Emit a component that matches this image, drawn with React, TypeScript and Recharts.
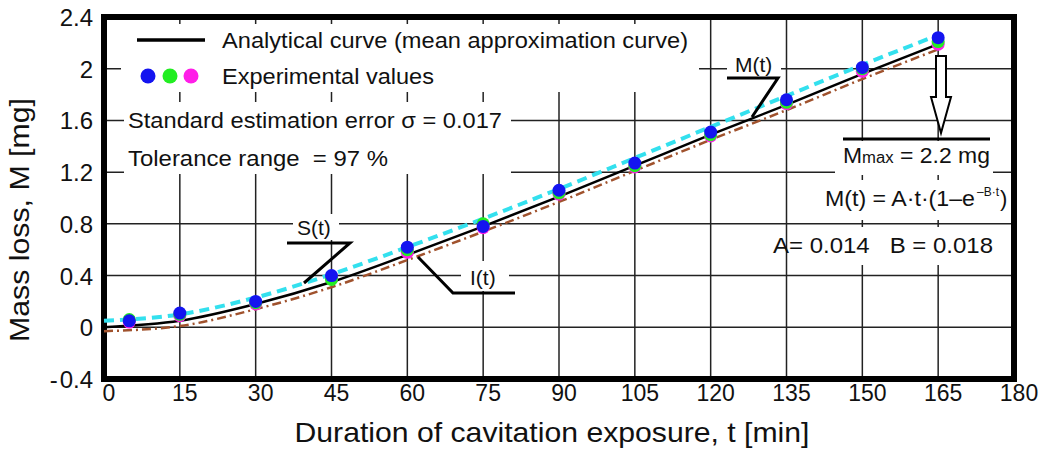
import React from 'react'
import { ComposedChart, Line, Scatter, XAxis, YAxis, CartesianGrid, ReferenceArea } from 'recharts'

// time grid (min) and curves
const times = [0, 15, 30, 45, 60, 75, 90, 105, 120, 135, 150, 165]
const analytical = [0, 0.05, 0.18, 0.35, 0.56, 0.78, 1.01, 1.25, 1.49, 1.72, 1.96, 2.19]
const upperS = [0.05, 0.1, 0.23, 0.41, 0.62, 0.84, 1.07, 1.31, 1.55, 1.79, 2.03, 2.26]
const lowerI = [-0.03, 0.01, 0.14, 0.31, 0.52, 0.74, 0.97, 1.21, 1.45, 1.68, 1.92, 2.15]

// experimental measurements (three specimens)
const expTimes = [5, 15, 30, 45, 60, 75, 90, 105, 120, 135, 150, 165]
const expMagenta = [0.04, 0.09, 0.18, 0.38, 0.58, 0.77, 1.03, 1.24, 1.48, 1.73, 1.98, 2.19]
const expGreen = [0.06, 0.1, 0.19, 0.37, 0.6, 0.8, 1.04, 1.25, 1.49, 1.74, 2.0, 2.21]
const expBlue = [0.05, 0.11, 0.2, 0.4, 0.62, 0.78, 1.06, 1.27, 1.51, 1.76, 2.01, 2.24]

const xTicks = [0, 15, 30, 45, 60, 75, 90, 105, 120, 135, 150, 165, 180]
const yTicks = [-0.4, 0, 0.4, 0.8, 1.2, 1.6, 2, 2.4]

const FONT = '"Liberation Sans", Arial, sans-serif'
const PRE = { whiteSpace: 'pre' as const }

const toPts = (xs: number[], vs: number[]) => xs.map((t, i) => ({ t, v: vs[i] }))

function dot(color: string) {
  return (p: any) => <circle cx={p.cx} cy={p.cy} r={6.5} fill={color} />
}

function XTick({ x, y, payload }: any) {
  return (
    <text x={x + 5} y={y + 14} textAnchor="middle" fontSize={23} fontFamily={FONT} fill="#111">
      {payload.value}
    </text>
  )
}

function YTick({ x, y, payload }: any) {
  const v = payload.value as number
  const label = v < 0 ? `-\u200a${Math.abs(v)}` : String(v)
  return (
    <text x={x} y={y + 9} textAnchor="end" fontSize={24} fontFamily={FONT} fill="#111">
      {label}
    </text>
  )
}

export default function App() {
  return (
    <div style={{ position: 'absolute', left: 0, top: 0, width: 1046, height: 459, background: '#fff', fontFamily: FONT }}>
      <ComposedChart width={1046} height={459} margin={{ top: 17, right: 32, bottom: 50, left: 0 }}>
        <CartesianGrid stroke="#222" strokeWidth={1.5} horizontalValues={yTicks} verticalValues={xTicks} />
        <XAxis dataKey="t" type="number" domain={[0, 180]} ticks={xTicks} height={30}
          axisLine={false} tickLine={false} tick={<XTick />} interval={0} />
        <YAxis dataKey="v" type="number" domain={[-0.4, 2.4]} ticks={yTicks} width={104}
          axisLine={false} tickLine={false} tick={<YTick />} interval={0} tickMargin={5} />
        <ReferenceArea x1={0} x2={180} y1={-0.4} y2={2.4} fill="none" stroke="#000" strokeWidth={6} />
        <Line data={toPts(times, lowerI)} dataKey="v" type="monotone" stroke="#a0522d" strokeWidth={2.5}
          strokeDasharray="9 4 2 4" dot={false} isAnimationActive={false} />
        <Line data={toPts(times, upperS)} dataKey="v" type="monotone" stroke="#33e0ee" strokeWidth={4}
          strokeDasharray="10 6" dot={false} isAnimationActive={false} />
        <Scatter data={toPts(expTimes, expMagenta)} dataKey="v" shape={dot('#ff1ee8')} isAnimationActive={false} />
        <Scatter data={toPts(expTimes, expGreen)} dataKey="v" shape={dot('#22ee22')} isAnimationActive={false} />
        <Scatter data={toPts(expTimes, expBlue)} dataKey="v" shape={dot('#1414f0')} isAnimationActive={false} />
        <Line data={toPts(times, analytical)} dataKey="v" type="monotone" stroke="#000" strokeWidth={2.5}
          dot={false} isAnimationActive={false} />
      </ComposedChart>

      {/* annotations on top */}
      <svg width={1046} height={459} style={{ position: 'absolute', left: 0, top: 0, pointerEvents: 'none' }}
        fontFamily={FONT} fill="#111">
        {/* legend block */}
        <rect x={121} y={24} width={578} height={68} fill="#fff" />
        <line x1={137} x2={205} y1={40} y2={40} stroke="#000" strokeWidth={3.5} />
        <text x={222} y={48} fontSize={22} textLength={466} lengthAdjust="spacingAndGlyphs">Analytical curve (mean approximation curve)</text>
        <circle cx={148} cy={76} r={7.5} fill="#1414f0" />
        <circle cx={170} cy={76} r={7.5} fill="#22ee22" />
        <circle cx={191} cy={76} r={7.5} fill="#ff1ee8" />
        <text x={222} y={84} fontSize={22} textLength={212} lengthAdjust="spacingAndGlyphs">Experimental values</text>

        <rect x={124} y={102} width={387} height={72} fill="#fff" />
        <text x={128} y={128} fontSize={22} textLength={374} lengthAdjust="spacingAndGlyphs">Standard estimation error σ = 0.017</text>
        <text x={128} y={166} fontSize={22} style={PRE} textLength={260} lengthAdjust="spacingAndGlyphs">Tolerance range  = 97 %</text>

        {/* M(t) leader */}
        <rect x={727} y={48} width={54} height={29} fill="#fff" />
        <text x={735} y={72} fontSize={21}>M(t)</text>
        <polyline points="727,78 778,78 752,117" fill="none" stroke="#000" strokeWidth={3} />

        {/* S(t) leader */}
        <rect x={293} y={214} width={46} height={26} fill="#fff" />
        <text x={297} y={235} fontSize={21}>S(t)</text>
        <polyline points="287,243 350,243 304,283" fill="none" stroke="#000" strokeWidth={3} />

        {/* I(t) leader */}
        <rect x={461} y={261} width={48} height={30} fill="#fff" />
        <text x={470} y={285} fontSize={21}>I(t)</text>
        <polyline points="418,257 453,293 515,293" fill="none" stroke="#000" strokeWidth={3} />

        {/* Mmax arrow and box */}
        <path d="M936,56 L946,56 L946,97 L951,97 L941,133 L931,97 L936,97 Z" fill="#fff" stroke="#000" strokeWidth={2} />
        <rect x={835} y={141} width={158} height={34} fill="#fff" />
        <line x1={843} x2={990} y1={139} y2={139} stroke="#000" strokeWidth={3} />
        <text x={843} y={163} fontSize={22} textLength={147} lengthAdjust="spacingAndGlyphs">M<tspan fontSize={16}>max</tspan> = 2.2 mg</text>

        <rect x={820} y={180} width={178} height={40} fill="#fff" />
        <text x={825} y={206} fontSize={22} textLength={150} lengthAdjust="spacingAndGlyphs">M(t) = A·t·(1–e</text>
        <text x={977} y={196} fontSize={12} textLength={22} lengthAdjust="spacingAndGlyphs">–B·t</text>
        <text x={1000} y={206} fontSize={22}>)</text>

        <rect x={795} y={227} width={205} height={38} fill="#fff" />
        <text x={773} y={253} fontSize={22} style={PRE} textLength={220} lengthAdjust="spacingAndGlyphs">A= 0.014   B = 0.018</text>

        {/* axis titles */}
        <text x={552} y={442} fontSize={28} textAnchor="middle" textLength={515} lengthAdjust="spacingAndGlyphs">
          Duration of cavitation exposure, t [min]
        </text>
        <text x={0} y={0} fontSize={28} textAnchor="middle" transform="translate(29,220) rotate(-90)"
          textLength={244} lengthAdjust="spacingAndGlyphs">
          Mass loss, M [mg]
        </text>
      </svg>
    </div>
  )
}
